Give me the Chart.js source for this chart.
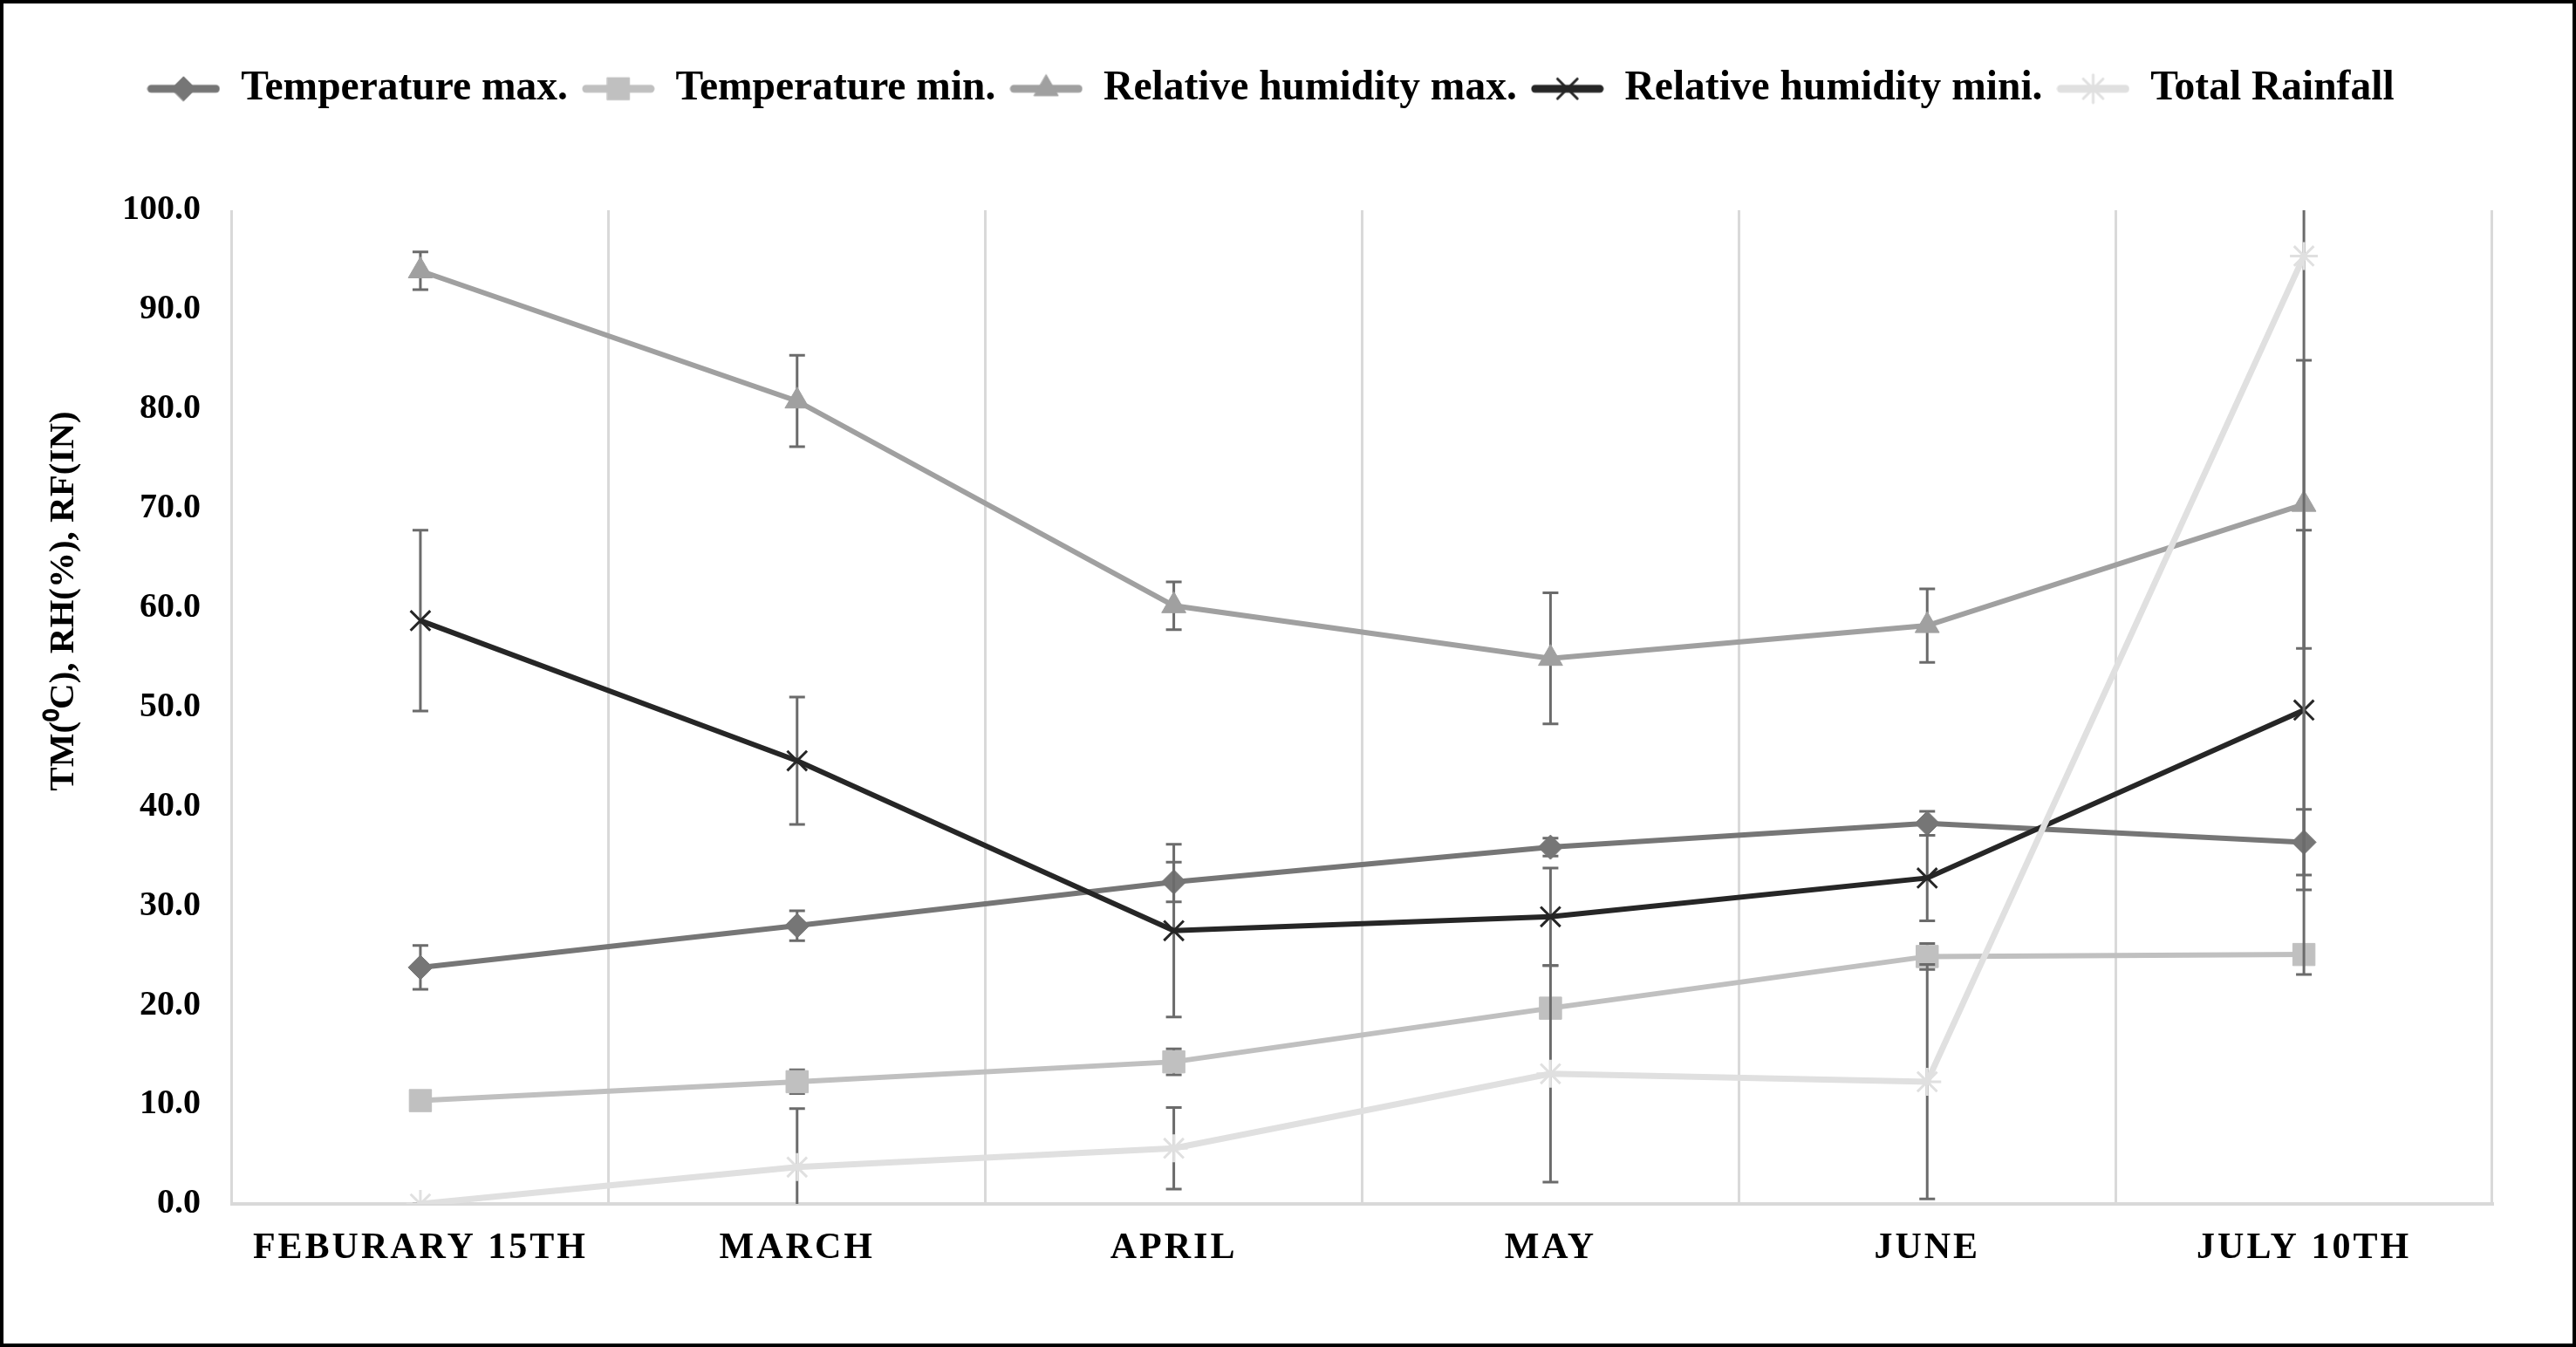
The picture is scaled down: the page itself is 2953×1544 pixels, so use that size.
<!DOCTYPE html>
<html>
<head>
<meta charset="utf-8">
<script src="https://cdn.jsdelivr.net/npm/chart.js@4.4.1/dist/chart.umd.min.js"></script>
<style>
  html, body { margin: 0; padding: 0; background: #fff; }
  #wrap { position: relative; width: 2953px; height: 1544px; }
  #frame { position: absolute; left: 0; top: 0; width: 2953px; height: 1544px;
           box-sizing: border-box; border: 4px solid #000; pointer-events: none; }
</style>
</head>
<body>
<div id="wrap">
  <canvas id="chart" width="2953" height="1544"></canvas>
  <div id="frame"></div>
</div>
<script>
// categories and series
const months = ['FEBURARY 15TH', 'MARCH', 'APRIL', 'MAY', 'JUNE', 'JULY 10TH'];

const tempMax = [23.8, 28.0, 32.4, 35.9, 38.3, 36.4];
const tempMaxErr = [2.2, 1.5, 2.0, 0.9, 1.2, 3.3];

const tempMin = [10.4, 12.3, 14.3, 19.7, 24.9, 25.1];
const tempMinErr = [0.3, 1.2, 1.3, 0.8, 1.3, 0.6];

const rhMax = [93.9, 80.8, 60.2, 54.9, 58.2, 70.4];
const rhMaxErr = [1.9, 4.6, 2.4, 6.6, 3.7, 14.5];

const rhMin = [58.7, 44.6, 27.5, 28.9, 32.8, 49.7];
const rhMinErr = [9.1, 6.4, 8.7, 4.9, 4.3, 18.1];

const rainfall = [0.0, 3.7, 5.6, 13.1, 12.3, 95.4];
const rainfallErr = [0, 5.9, 4.1, 10.9, 11.8, 72.3];

const yTitle = 'TM(\u2070C), RH(%), RF(IN)';
const serif = "'Liberation Serif', 'Times New Roman', serif";

function series(label, data, errors, color, style, radius, order, lineWidth) {
  const open = style === 'crossRot' || style === 'star';
  return {
    label, data, errors, order,
    borderColor: color,
    backgroundColor: color,
    borderWidth: lineWidth,
    pointStyle: style,
    pointRadius: radius,
    pointBackgroundColor: color,
    pointBorderColor: color,
    pointBorderWidth: open ? 3 : 1,
    tension: 0
  };
}

const datasets = [
  series('Temperature max.', tempMax, tempMaxErr, '#767676', 'rectRot', 14, 5, 6),
  series('Temperature min.', tempMin, tempMinErr, '#c0c0c0', 'rect', 18, 4, 6),
  series('Relative humidity max.', rhMax, rhMaxErr, '#a0a0a0', 'triangle', 16, 3, 6),
  series('Relative humidity mini.', rhMin, rhMinErr, '#262626', 'crossRot', 16, 2, 6),
  series('Total Rainfall', rainfall, rainfallErr, '#e0e0e0', 'star', 16, 1, 7)
];

// legend icon: short line with the marker in the middle
const iconW = 84, iconH = 48;
function legendIcon(ds) {
  const c = document.createElement('canvas');
  c.width = iconW; c.height = iconH;
  const g = c.getContext('2d');
  g.strokeStyle = ds.borderColor;
  g.lineWidth = 9;
  g.lineCap = 'round';
  g.beginPath();
  g.moveTo(5, iconH / 2);
  g.lineTo(iconW - 5, iconH / 2);
  g.stroke();
  g.fillStyle = ds.pointBackgroundColor;
  g.strokeStyle = ds.pointBorderColor;
  g.lineWidth = ds.pointBorderWidth;
  Chart.helpers.drawPoint(g, {
    pointStyle: ds.pointStyle, radius: ds.pointRadius, rotation: 0, borderWidth: ds.pointBorderWidth
  }, iconW / 2, iconH / 2);
  return c;
}
const icons = datasets.map(legendIcon);

// error bars, drawn just before each series so its line and markers sit on top
const errorBars = {
  id: 'errorBars',
  beforeDatasetDraw(chart, args) {
    const ds = chart.data.datasets[args.index];
    if (!ds.errors) return;
    const { ctx, chartArea } = chart;
    const y = chart.scales.y;
    ctx.save();
    ctx.beginPath();
    ctx.rect(chartArea.left, chartArea.top, chartArea.width, chartArea.height);
    ctx.clip();
    ctx.strokeStyle = '#6b6b6b';
    ctx.lineWidth = 3;
    args.meta.data.forEach((pt, i) => {
      const e = ds.errors[i];
      if (e == null) return;
      const v = ds.data[i];
      const top = y.getPixelForValue(v + e);
      const bot = y.getPixelForValue(v - e);
      ctx.beginPath();
      ctx.moveTo(pt.x, top); ctx.lineTo(pt.x, bot);
      ctx.moveTo(pt.x - 9, top); ctx.lineTo(pt.x + 9, top);
      ctx.moveTo(pt.x - 9, bot); ctx.lineTo(pt.x + 9, bot);
      ctx.stroke();
    });
    ctx.restore();
  }
};

// legend placement, letter spaced category labels and the y axis title
const axisText = {
  id: 'axisText',
  afterLayout(chart) {
    const lg = chart.legend;
    const dy = lg.top - 62;
    lg.top -= dy; lg.bottom -= dy;
    lg.left += 28; lg.right += 28;
  },
  beforeDraw(chart) {
    const x = chart.scales.x;
    if (x && !x._spaced) {
      const orig = x.drawLabels;
      x.drawLabels = function (area) {
        const ctx = this.ctx;
        ctx.save();
        ctx.letterSpacing = '3px';
        orig.call(this, area);
        ctx.restore();
      };
      x._spaced = true;
    }
  },
  afterDraw(chart) {
    const ctx = chart.ctx;
    ctx.save();
    ctx.translate(73, 689);
    ctx.rotate(-Math.PI / 2);
    ctx.font = 'bold 41px ' + serif;
    ctx.fillStyle = '#000';
    ctx.textAlign = 'center';
    ctx.textBaseline = 'middle';
    ctx.fillText(yTitle, 0, 0);
    ctx.restore();
  }
};

new Chart(document.getElementById('chart'), {
  type: 'line',
  data: { labels: months, datasets },
  plugins: [errorBars, axisText],
  options: {
    responsive: false,
    animation: false,
    devicePixelRatio: 1,
    layout: { padding: { top: 57, left: 0, right: 96, bottom: 0 } },
    plugins: {
      tooltip: { enabled: false },
      legend: {
        position: 'top',
        labels: {
          usePointStyle: true,
          pointStyleWidth: iconW,
          padding: 16,
          color: '#000',
          font: { family: serif, size: 47.5, weight: 'bold' },
          generateLabels: chart => chart.data.datasets.map((ds, i) => ({
            text: ds.label,
            pointStyle: icons[i],
            datasetIndex: i,
            fontColor: '#000',
            fillStyle: ds.borderColor,
            strokeStyle: ds.borderColor,
            lineWidth: 0,
            hidden: false
          }))
        }
      }
    },
    scales: {
      x: {
        offset: true,
        grid: { display: true, offset: true, color: '#d9d9d9', lineWidth: 3, drawTicks: false },
        border: { display: true, color: '#d9d9d9', width: 4 },
        ticks: {
          color: '#000', padding: 26, maxRotation: 0, autoSkip: false,
          font: { family: serif, size: 42, weight: 'bold' }
        },
        afterFit: s => { s.height = 164; }
      },
      y: {
        min: 0,
        max: 100,
        grid: { display: false, drawTicks: false },
        border: { display: false },
        ticks: {
          stepSize: 10,
          color: '#000',
          padding: 36,
          font: { family: serif, size: 40, weight: 'bold' },
          callback: v => Number(v).toFixed(1)
        },
        afterFit: s => { s.width = 266; s.paddingTop = 241; }
      }
    }
  }
});
</script>
</body>
</html>
